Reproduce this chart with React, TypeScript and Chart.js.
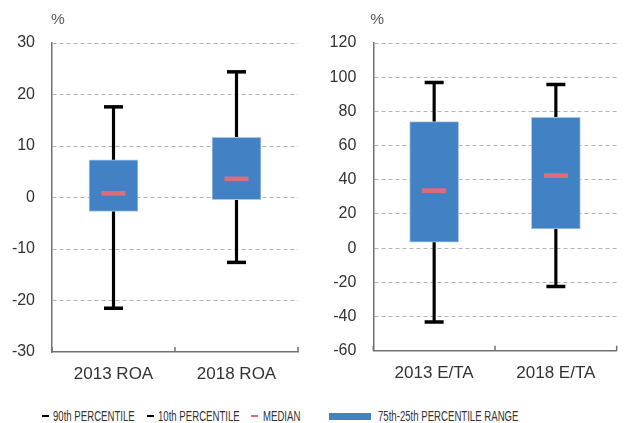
import React, { useEffect, useRef } from 'react';
import { Chart, registerables } from 'chart.js';

Chart.register(...registerables);

// ---------- data ----------
const roaCategories = ['2013 ROA', '2018 ROA'];
const roaP90 = [17.6, 24.4];
const roaP10 = [-21.5, -12.6];
const roaQ75 = [7.3, 11.7];
const roaQ25 = [-2.7, -0.4];
const roaMedian = [0.8, 3.6];
const roaAxis = [-30, 30, 10]; // min, max, step

const etaCategories = ['2013 E/TA', '2018 E/TA'];
const etaP90 = [96.9, 95.7];
const etaP10 = [-43.2, -22.5];
const etaQ75 = [74.0, 76.5];
const etaQ25 = [3.5, 11.2];
const etaMedian = [33.7, 42.4];
const etaAxis = [-60, 120, 20];

const unitLabel = '%';
const legendLabels = ['90th PERCENTILE', '10th PERCENTILE', 'MEDIAN', '75th-25th PERCENTILE RANGE'];

// ---------- styles ----------
const FONT = '"Liberation Sans", Arial, Helvetica, sans-serif';
const BOX = '#4181c4';
const BOX_EDGE = '#a9c7e8';
const MEDIAN_COLOR = '#dc6e7c';
const AXIS = '#727272';
const GRID = '#b2b2b2';
const TEXT = '#333333';

const decorPlugin = {
  id: 'decor',
  afterDraw(chart: any, _args: any, opts: any) {
    const { ctx, chartArea } = chart;
    ctx.save();
    ctx.fillStyle = '#5a5a5a';
    ctx.font = '15.5px ' + FONT;
    ctx.textBaseline = 'middle';
    ctx.textAlign = 'left';
    ctx.fillText(opts.label, chartArea.left + opts.dx, 20);
    ctx.strokeStyle = AXIS;
    ctx.lineWidth = 1.5;
    const xs = [chartArea.left, (chartArea.left + chartArea.right) / 2, chartArea.right];
    ctx.beginPath();
    xs.forEach((x) => {
      ctx.moveTo(x, chartArea.bottom);
      ctx.lineTo(x, chartArea.bottom - 5);
    });
    ctx.stroke();
    ctx.restore();
  },
};

type PanelProps = {
  left: number;
  width: number;
  height: number;
  yWidth: number;
  padRight: number;
  padBottom: number;
  pctDx: number;
  categories: string[];
  p10: number[];
  p90: number[];
  q25: number[];
  q75: number[];
  med: number[];
  axis: number[];
};

function BoxPanel(p: PanelProps) {
  const ref = useRef<HTMLCanvasElement | null>(null);
  useEffect(() => {
    const [min, max, step] = p.axis;
    const capStyle = (data: number[]) => ({
      type: 'line' as const,
      data,
      showLine: false,
      pointStyle: 'line',
      pointRadius: 9.5,
      pointHoverRadius: 9.5,
      pointBorderWidth: 3.5,
      pointBorderColor: '#000000',
      pointBackgroundColor: '#000000',
      order: 1,
    });
    const chart = new Chart(ref.current as HTMLCanvasElement, {
      type: 'bar',
      data: {
        labels: p.categories,
        datasets: [
          {
            type: 'line',
            data: p.med,
            showLine: false,
            pointStyle: 'line',
            pointRadius: 12,
            pointHoverRadius: 12,
            pointBorderWidth: 4.7,
            pointBorderColor: MEDIAN_COLOR,
            pointBackgroundColor: MEDIAN_COLOR,
            order: 0,
          } as any,
          capStyle(p.p90) as any,
          capStyle(p.p10) as any,
          {
            type: 'bar',
            data: p.q25.map((v, i) => [v, p.q75[i]]),
            backgroundColor: BOX,
            borderColor: BOX_EDGE,
            borderWidth: 1,
            borderSkipped: false,
            barThickness: 49,
            grouped: false,
            order: 2,
          } as any,
          {
            type: 'bar',
            data: p.p10.map((v, i) => [v, p.p90[i]]),
            backgroundColor: '#000000',
            borderWidth: 0,
            barThickness: 2.5,
            grouped: false,
            order: 3,
          } as any,
        ],
      },
      options: {
        animation: false,
        responsive: false,
        maintainAspectRatio: false,
        layout: { padding: { left: 0, top: 43, right: p.padRight, bottom: p.padBottom } },
        plugins: {
          legend: { display: false },
          tooltip: { enabled: false },
          decor: { label: unitLabel, dx: p.pctDx },
        } as any,
        scales: {
          x: {
            offset: true,
            grid: { display: false, drawTicks: false, drawOnChartArea: false },
            border: { display: true, color: AXIS, width: 1.5 },
            ticks: {
              color: TEXT,
              font: { family: FONT, size: 17 },
              padding: 12,
              maxRotation: 0,
              autoSkip: false,
            },
            afterFit: (s: any) => {
              s.height = 40;
            },
          },
          y: {
            min,
            max,
            ticks: {
              stepSize: step,
              color: TEXT,
              font: { family: FONT, size: 16 },
              padding: 17,
            },
            grid: {
              color: (c: any) => (c.tick && c.tick.value === min ? 'rgba(0,0,0,0)' : GRID),
              lineWidth: 1,
              drawTicks: false,
              borderDash: [4, 3],
            } as any,
            border: { display: true, color: AXIS, width: 1.5, dash: [4, 3] },
            afterFit: (s: any) => {
              s.width = p.yWidth;
            },
          },
        },
      } as any,
      plugins: [decorPlugin as any],
    });
    return () => chart.destroy();
  }, []);
  return (
    <canvas
      ref={ref}
      width={p.width}
      height={p.height}
      style={{ position: 'absolute', left: p.left, top: 0, width: p.width, height: p.height }}
    />
  );
}

function LegendItem({ x, label, mark }: { x: number; label: string; mark: React.ReactNode }) {
  return (
    <>
      {mark}
      <span
        style={{
          position: 'absolute',
          left: x,
          top: 406,
          height: 20,
          lineHeight: '20px',
          fontFamily: FONT,
          fontSize: 15.5,
          color: TEXT,
          whiteSpace: 'nowrap',
          transform: 'scaleX(0.62)',
          transformOrigin: 'left center',
        }}
      >
        {label}
      </span>
    </>
  );
}

const dash = (x: number, w: number, color: string, h: number) => (
  <div
    style={{
      position: 'absolute',
      left: x,
      top: 416 - h / 2,
      width: w,
      height: h,
      background: color,
    }}
  />
);

export default function App() {
  return (
    <div
      style={{
        position: 'absolute',
        left: 0,
        top: 0,
        width: 641,
        height: 423,
        background: '#ffffff',
        overflow: 'hidden',
      }}
    >
      <BoxPanel
        left={0}
        width={320}
        height={400}
        yWidth={52}
        padRight={22}
        padBottom={8}
        pctDx={-1}
        categories={roaCategories}
        p10={roaP10}
        p90={roaP90}
        q25={roaQ25}
        q75={roaQ75}
        med={roaMedian}
        axis={roaAxis}
      />
      <BoxPanel
        left={320}
        width={321}
        height={400}
        yWidth={53.3}
        padRight={24.3}
        padBottom={9.3}
        pctDx={-3}
        categories={etaCategories}
        p10={etaP10}
        p90={etaP90}
        q25={etaQ25}
        q75={etaQ75}
        med={etaMedian}
        axis={etaAxis}
      />
      <LegendItem x={53} label={legendLabels[0]} mark={dash(42, 7, '#000000', 2.5)} />
      <LegendItem x={158} label={legendLabels[1]} mark={dash(147, 7, '#000000', 2.5)} />
      <LegendItem x={263} label={legendLabels[2]} mark={dash(251, 7, MEDIAN_COLOR, 2.5)} />
      <LegendItem x={378} label={legendLabels[3]} mark={dash(329, 42, BOX, 7)} />
    </div>
  );
}
